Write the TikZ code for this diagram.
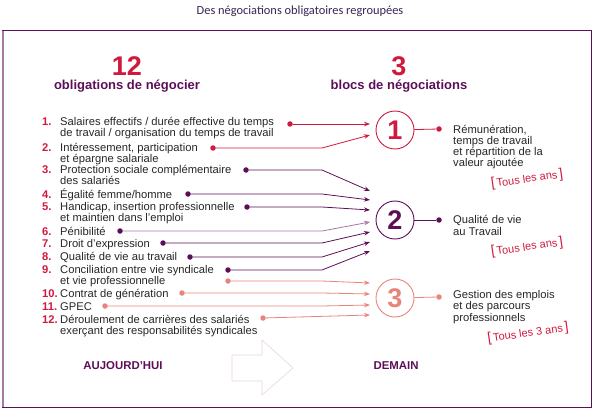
\documentclass[tikz,border=0pt]{standalone}
\usepackage{fontspec}
\setmainfont{Liberation Sans}
\newfontfamily\titlefont{Carlito}
\usetikzlibrary{arrows.meta, positioning}
\definecolor{crimson}{HTML}{D1193E}
\definecolor{plum}{HTML}{5C0F58}
\definecolor{lightplum}{HTML}{A77AA6}
\definecolor{salmon}{HTML}{E8857A}
\definecolor{titleink}{HTML}{3A2452}
\definecolor{ghost}{HTML}{E6D3E0}

\begin{document}
\begin{tikzpicture}[x=1pt, y=-1pt,
  item/.style={anchor=base west, inner sep=0pt, align=left,
               font=\fontsize{11.2}{11}\selectfont, text=black!85},
  num/.style={anchor=base west, inner sep=0pt,
              font=\fontsize{11.2}{11}\selectfont\bfseries, text=crimson},
  dot/.style={circle, fill=#1, inner sep=0pt, minimum size=5.5pt},
  link/.style={draw=#1, line width=0.8pt, -{Stealth[length=6pt, width=4.5pt]}},
  bloc/.style={circle, draw=#1, line width=0.9pt, minimum size=38pt,
               inner sep=0pt, text=#1, font=\fontsize{27}{27}\selectfont\bfseries},
  desc/.style={anchor=base west, inner sep=0pt, align=left,
               font=\fontsize{11.2}{11.3}\selectfont, text=black!85},
  freq/.style={rotate=8, text=crimson, inner sep=0pt, font=\fontsize{11}{12}\selectfont},
  big/.style={font=\fontsize{27}{27}\selectfont\bfseries, text=crimson},
  head/.style={font=\fontsize{13}{15}\selectfont\bfseries, text=plum},
  foot/.style={font=\fontsize{11.4}{13}\selectfont\bfseries, text=plum}
]
\useasboundingbox (0,0) rectangle (598,420);

% title and frame
\node[font=\titlefont\fontsize{12.4}{14}\selectfont, text=titleink] (title) at (300,11)
  {Des négociations obligatoires regroupées};
\draw[plum, line width=1pt] (2,31) -- (591,31) -- (591,407) -- (2,407);
\draw[lightplum, line width=2pt] (3,31) -- (3,407);

% headings
\node[big]  (n12)  at (127,66) {12};
\node[head] (h12)  at (127,86) {obligations de négocier};
\node[big]  (n3)   at (399,66) {3};
\node[head] (h3)   at (399,86) {blocs de négociations};

% the twelve obligations (base = last line)
\node[num] (n1)  at (42,126) {1.};
\node[item] (i1) at (60,137) {Salaires effectifs / durée effective du temps\\de travail / organisation du temps de travail};
\node[num] (n2)  at (42,152) {2.};
\node[item] (i2) at (60,163) {Intéressement, participation\\et épargne salariale};
\node[num] (n3)  at (42,173) {3.};
\node[item] (i3) at (60,184) {Protection sociale complémentaire\\des salariés};
\node[num] (n4)  at (42,198) {4.};
\node[item] (i4) at (60,198) {Égalité femme/homme};
\node[num] (n5)  at (42,210) {5.};
\node[item] (i5) at (60,221) {Handicap, insertion professionnelle\\et maintien dans l’emploi};
\node[num] (n6)  at (42,235) {6.};
\node[item] (i6) at (60,235) {Pénibilité};
\node[num] (n7)  at (42,247) {7.};
\node[item] (i7) at (60,247) {Droit d’expression};
\node[num] (n8)  at (42,260) {8.};
\node[item] (i8) at (60,260) {Qualité de vie au travail};
\node[num] (n9)  at (42,273) {9.};
\node[item] (i9) at (60,284) {Conciliation entre vie syndicale\\et vie professionnelle};
\node[num] (n10) at (42,297) {10.};
\node[item] (i10) at (60,297) {Contrat de génération};
\node[num] (n11) at (42,310) {11.};
\node[item] (i11) at (60,310) {GPEC};
\node[num] (n12) at (42,323) {12.};
\node[item] (i12) at (60,334) {Déroulement de carrières des salariés\\exerçant des responsabilités syndicales};

% dots at the end of each line
\node[dot=crimson] (d1)  at (290,124) {};
\node[dot=crimson] (d2)  at (213,148) {};
\node[dot=plum]    (d3)  at (246,170) {};
\node[dot=plum]    (d4)  at (188,194) {};
\node[dot=plum]    (d5)  at (247,207) {};
\node[dot=plum]    (d6)  at (120,231) {};
\node[dot=plum]    (d7)  at (163,243) {};
\node[dot=plum]    (d8)  at (190,257) {};
\node[dot=plum]    (d9)  at (228,270) {};
\node[dot=salmon]  (d9b) at (228,281) {};
\node[dot=salmon]  (d10) at (182,293) {};
\node[dot=salmon]  (d11) at (105,306) {};
\node[dot=salmon]  (d12) at (263,318) {};

% the three blocks
\node[bloc=crimson] (b1) at (395,130) {1};
\node[bloc=plum]    (b2) at (395,220) {2};
\node[bloc=salmon]  (b3) at (395,298) {3};

\coordinate (bend) at (322,0);
\coordinate (t1)  at (370,124);
\coordinate (t2)  at (370,135);
\coordinate (t3)  at (370,191);
\coordinate (t4)  at (370,200);
\coordinate (t5)  at (370,210);
\coordinate (t6)  at (370,222);
\coordinate (t7)  at (370,232);
\coordinate (t8)  at (370,242);
\coordinate (t9)  at (370,251);
\coordinate (t9b) at (370,283);
\coordinate (t10) at (370,294);
\coordinate (t11) at (370,305);
\coordinate (t12) at (370,315);

\draw[link=crimson]   (d1) -- (t1);
\draw[link=crimson]   (d2) -- (d2 -| bend) -- (t2);
\draw[link=plum]      (d3) -- (d3 -| bend) -- (t3);
\draw[link=plum]      (d4) -- (d4 -| bend) -- (t4);
\draw[link=plum]      (d5) -- (d5 -| bend) -- (t5);
\draw[link=lightplum] (d6) -- (d6 -| bend) -- (t6);
\draw[link=plum]      (d7) -- (d7 -| bend) -- (t7);
\draw[link=plum]      (d8) -- (d8 -| bend) -- (t8);
\draw[link=plum]      (d9) -- (d9 -| bend) -- (t9);
\draw[link=salmon]    (d9b) -- (d9b -| bend) -- (t9b);
\draw[link=salmon]    (d10) -- (d10 -| bend) -- (t10);
\draw[link=salmon]    (d11) -- (d11 -| bend) -- (t11);
\draw[link=salmon]    (d12) -- (t12);

% what each block covers
\node[dot=crimson] (e1) at (439,129) {};
\node[dot=plum]    (e2) at (439,220) {};
\node[dot=salmon]  (e3) at (439,297) {};
\draw[crimson, line width=0.8pt] (b1) -- (e1);
\draw[plum, line width=0.8pt]    (b2) -- (e2);
\draw[salmon, line width=0.8pt]  (b3) -- (e3);

\node[desc] (r1) at (453,167) {Rémunération,\\temps de travail\\et répartition de la\\valeur ajoutée};
\node[desc] (r2) at (453,235) {Qualité de vie\\au Travail};
\node[desc] (r3) at (453,321) {Gestion des emplois\\et des parcours\\professionnels};

\node[freq] (f1) at (527,179) {{\fontsize{14}{14}\selectfont[}\,Tous les ans\,{\fontsize{14}{14}\selectfont]}};
\node[freq] (f2) at (527,247) {{\fontsize{14}{14}\selectfont[}\,Tous les ans\,{\fontsize{14}{14}\selectfont]}};
\node[freq] (f3) at (528,333) {{\fontsize{14}{14}\selectfont[}\,Tous les 3 ans\,{\fontsize{14}{14}\selectfont]}};

% today / tomorrow
\draw[ghost, line width=0.6pt] (232,355) -- (262,355) -- (262,340) -- (293,368)
  -- (262,395) -- (262,381) -- (232,381) -- cycle;
\node[foot] (today) at (123,366) {AUJOURD’HUI};
\node[foot] (tomorrow) at (396,366) {DEMAIN};
\end{tikzpicture}
\end{document}
